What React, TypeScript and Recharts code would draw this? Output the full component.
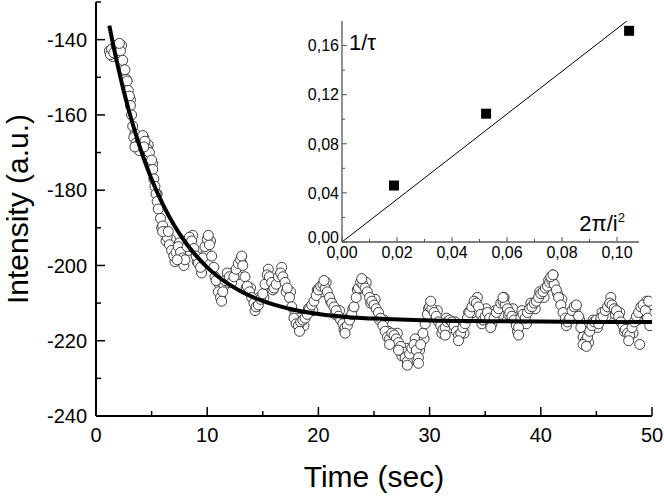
import { ComposedChart, Scatter, Line, XAxis, YAxis } from 'recharts';

const FONT = '"Liberation Sans", Arial, sans-serif';

// measured intensity, [time (s), intensity (a.u.)]
const measured: [number, number][] = [
  [1.2, -143], [1.3, -144], [1.4, -142.5], [1.6, -143.5], [1.8, -141.5], [2.0, -142], [2.2, -143],
  [2.4, -145.5], [2.6, -148], [2.8, -151], [2.9, -153.5], [3.0, -155], [3.1, -157.5], [3.2, -160],
  [3.3, -163], [3.4, -166], [3.6, -167.5], [3.8, -168], [4.0, -166.5], [4.2, -165.5], [4.4, -167],
  [4.6, -169], [4.8, -170], [5.0, -172], [5.1, -174.5], [5.2, -177], [5.3, -179], [5.4, -181],
  [5.5, -183], [5.6, -185], [5.8, -187.5], [6.0, -189.5], [6.2, -191], [6.4, -192.5], [6.6, -194.5],
  [6.8, -196], [7.0, -197.5], [7.2, -196.5], [7.4, -195], [7.6, -196.5], [7.8, -198], [8.0, -198.5],
  [8.2, -195], [8.4, -192.5], [8.6, -193.5], [8.8, -195.5], [9.0, -197.5], [9.2, -199.5], [9.4, -200.5],
  [9.6, -198], [9.8, -195], [10.0, -193], [10.2, -194.5], [10.4, -197.5], [10.6, -200.5], [10.8, -204],
  [11.0, -207], [11.2, -208.5], [11.4, -207], [11.6, -204], [11.8, -202], [12.0, -203], [12.2, -204.5],
  [12.4, -203], [12.6, -201], [12.8, -199.5], [13.0, -198.5], [13.2, -200], [13.4, -203], [13.6, -205.5],
  [13.8, -207], [14.0, -208.5], [14.2, -210], [14.4, -211], [14.6, -210.5], [14.8, -209], [15.0, -207.5],
  [15.2, -205], [15.4, -202.5], [15.6, -203], [15.8, -204.5], [16.0, -206], [16.2, -205], [16.4, -203],
  [16.6, -202], [16.8, -203], [17.0, -204.5], [17.2, -206], [17.4, -208.5], [17.6, -211], [17.8, -214],
  [18.0, -215.5], [18.2, -216], [18.4, -215], [18.6, -214.5], [18.8, -214], [19.0, -213], [19.2, -211.5],
  [19.4, -210.5], [19.6, -209.5], [19.8, -208], [20.0, -206.5], [20.2, -205.5], [20.4, -205], [20.6, -206],
  [20.8, -207], [21.0, -208.5], [21.2, -210], [21.4, -211], [21.6, -212], [21.8, -213.5], [22.0, -214.5],
  [22.2, -215.5], [22.4, -216.5], [22.6, -216], [22.8, -214.5], [23.0, -213], [23.2, -211], [23.4, -208.5],
  [23.6, -206], [23.8, -204.5], [24.0, -205], [24.2, -206], [24.4, -207], [24.6, -208.5], [24.8, -209.5],
  [25.0, -210.5], [25.2, -211.5], [25.4, -212.5], [25.6, -214], [25.8, -216], [26.0, -217.5], [26.2, -219],
  [26.4, -219.5], [26.6, -218], [26.8, -218.5], [27.0, -219.5], [27.2, -220.5], [27.4, -221.5], [27.6, -223],
  [27.8, -224.5], [28.0, -225.5], [28.2, -223.5], [28.4, -222], [28.6, -221], [28.8, -222.5], [29.0, -224.5],
  [29.2, -221], [29.4, -218], [29.6, -215.5], [29.8, -213], [30.0, -211], [30.2, -211.5], [30.4, -212.5],
  [30.6, -213.5], [30.8, -215], [31.0, -216], [31.2, -217], [31.4, -216.5], [31.6, -215], [31.8, -214.5],
  [32.0, -215], [32.2, -216], [32.4, -217.5], [32.6, -218.5], [32.8, -218], [33.0, -216.5], [33.2, -215.5],
  [33.4, -214], [33.6, -212.5], [33.8, -211], [34.0, -209.5], [34.2, -210], [34.4, -211], [34.6, -213],
  [34.8, -214.5], [35.0, -213.5], [35.2, -212.5], [35.4, -214], [35.6, -215.5], [35.8, -214], [36.0, -212.5],
  [36.2, -211.5], [36.4, -210], [36.6, -209.5], [36.8, -210.5], [37.0, -211.5], [37.2, -212.5], [37.4, -213.5],
  [37.6, -214.5], [37.8, -216], [38.0, -216.5], [38.2, -214], [38.4, -213], [38.6, -214], [38.8, -212.5],
  [39.0, -211.5], [39.2, -211], [39.4, -210], [39.6, -209.5], [39.8, -208.5], [40.0, -207.5], [40.2, -207],
  [40.4, -206], [40.6, -205.5], [40.8, -204.5], [41.0, -204], [41.2, -205], [41.4, -206.5], [41.6, -208.5],
  [41.8, -210.5], [42.0, -212.5], [42.2, -214], [42.4, -215], [42.6, -214], [42.8, -212], [43.0, -211],
  [43.2, -210.5], [43.4, -213.5], [43.6, -216.5], [43.8, -219], [44.0, -220], [44.2, -219], [44.4, -217.5],
  [44.6, -216], [44.8, -215], [45.0, -214.5], [45.2, -215.5], [45.4, -214], [45.6, -213.5], [45.8, -212],
  [46.0, -211], [46.2, -210], [46.4, -210.5], [46.6, -211.5], [46.8, -212], [47.0, -213.5], [47.2, -215],
  [47.4, -216], [47.6, -217], [47.8, -218], [48.0, -218.5], [48.2, -216.5], [48.4, -215], [48.6, -213.5],
  [48.8, -212.5], [49.0, -211], [49.2, -210.5], [49.4, -212], [49.6, -214], [49.8, -216],
];

// second layer of circles that widens the band
const measuredBand: [number, number][] = [
  [1.5, -144.5], [1.9, -143.5], [2.3, -141.5], [2.7, -150.5], [3.1, -156], [3.5, -165], [3.9, -169.5],
  [4.3, -166], [4.7, -168], [5.1, -173], [5.5, -181], [5.9, -190], [6.3, -193.5], [6.7, -193], [7.1, -199],
  [7.5, -194], [7.9, -200], [8.3, -196], [8.7, -192], [9.1, -199], [9.5, -202], [9.9, -196.5], [10.3, -193.5],
  [10.7, -203], [11.1, -205], [11.5, -205.5], [11.9, -204.5], [12.3, -202], [12.7, -202.5], [13.1, -199.5],
  [13.5, -206], [13.9, -206], [14.3, -212], [14.7, -208.5], [15.1, -208.5], [15.5, -201], [15.9, -206.5],
  [16.3, -203.5], [16.7, -200.5], [17.1, -207], [17.5, -207], [17.9, -213], [18.3, -214], [18.7, -216],
  [19.1, -211.5], [19.5, -212], [19.9, -206.5], [20.3, -207], [20.7, -204.5], [21.1, -209.5], [21.5, -213],
  [21.9, -212], [22.3, -217], [22.7, -214], [23.1, -211.5], [23.5, -206.5], [23.9, -206], [24.3, -204.5],
  [24.7, -210], [25.1, -209], [25.5, -214.5], [25.9, -214.5], [26.3, -217.5], [26.7, -220], [27.1, -218],
  [27.5, -224], [27.9, -222], [28.3, -225], [28.7, -219.5], [29.1, -222.5], [29.5, -219.5], [29.9, -211.5],
  [30.3, -213.5], [30.7, -212], [31.1, -218], [31.5, -214], [31.9, -216.5], [32.3, -215], [32.7, -216.5],
  [33.1, -218], [33.5, -212.5], [33.9, -212.5], [34.3, -208.5], [34.7, -215.5], [35.1, -211.5], [35.5, -216],
  [35.9, -212], [36.3, -213], [36.7, -208.5], [37.1, -213], [37.5, -211.5], [37.9, -217.5], [38.3, -212],
  [38.7, -215.5], [39.1, -210], [39.5, -211.5], [39.9, -207], [40.3, -208.5], [40.7, -204], [41.1, -202.5],
  [41.5, -207.5], [41.9, -209], [42.3, -216], [42.7, -212.5], [43.1, -212], [43.5, -214.5], [43.9, -217.5],
  [44.3, -220.5], [44.7, -214.5], [45.1, -216.5], [45.5, -212.5], [45.9, -213.5], [46.3, -208.5], [46.7, -213],
  [47.1, -212.5], [47.5, -217.5], [47.9, -216.5], [48.3, -218], [48.7, -214.5], [49.1, -212.5], [49.5, -209.5],
  [49.9, -213],
];

// scattered points off the main band
const measuredSpread: [number, number][] = [
  [2.1, -141], [3.5, -168.5], [4.3, -168.5], [6.0, -191], [6.5, -191], [7.3, -198.5], [10.1, -192],
  [11.3, -209.5], [13.1, -197.5], [18.3, -217.5], [20.5, -204], [22.4, -218], [23.9, -203.5],
  [28.0, -226.5], [29.0, -226], [30.1, -209.5], [32.6, -220], [35.5, -216.5], [38.0, -218.5],
  [40.9, -203], [43.8, -221], [44.1, -221.5], [47.9, -220], [48.9, -221], [49.7, -209.5],
  [26.4, -221], [27.2, -222.5], [31.4, -218.5], [36.6, -208.5], [41.1, -202.5],
];

const fitTime = [1.2, 1.5, 2, 2.5, 3, 3.5, 4, 5, 6, 7, 8, 9, 10, 12, 14, 16, 18, 20, 23, 26, 30, 35, 40, 45, 50];
const fitIntensity = [-136.3, -140.7, -147.5, -153.7, -159.3, -164.4, -169, -177.1, -183.7, -189.2, -193.7,
  -197.4, -200.5, -205.1, -208.3, -210.4, -211.9, -212.9, -213.8, -214.2, -214.6, -214.8, -214.9, -215, -215];

// inset: 1/tau vs 2pi/i^2
const insetX = [0.0189, 0.0524, 0.1044];
const insetY = [0.046, 0.1045, 0.172];
const insetLineX = [0, 0.1036];
const insetLineY = [0, 0.18];

const timeTicks = [0, 5, 10, 15, 20, 25, 30, 35, 40, 45, 50];
const intensityTicks = [-240, -230, -220, -210, -200, -190, -180, -170, -160, -150, -140, -130];
const insetXTicks = [0, 0.01, 0.02, 0.03, 0.04, 0.05, 0.06, 0.07, 0.08, 0.09, 0.1];
const insetYTicks = [0, 0.02, 0.04, 0.06, 0.08, 0.1, 0.12, 0.14, 0.16];

const toPoints = (arr: [number, number][]) => arr.map(([t, v]) => ({ t, v }));
const scatterData = toPoints(measured);
const bandData = toPoints(measuredBand);
const spreadData = toPoints(measuredSpread);
const fitData = fitTime.map((t, i) => ({ t, v: fitIntensity[i] }));
const insetPoints = insetX.map((x, i) => ({ x, y: insetY[i] }));
const insetLine = insetLineX.map((x, i) => ({ x, y: insetLineY[i] }));

type Side = 'bottom' | 'left' | 'top' | 'right';
interface TickOpts {
  side: Side;
  len: (v: number) => number;
  label?: (v: number) => string | null;
  fontSize?: number;
  offset?: number;
  lift?: (v: number) => number;
  stroke: string;
  width: number;
}

// inward ticks, drawn by hand (tickSize=0, tickMargin=0 so x/y sit on the axis line)
const makeTick = (o: TickOpts) => (props: any) => {
  const { x, y, payload } = props;
  const v = payload.value as number;
  const L = o.len(v);
  const text = o.label ? o.label(v) : null;
  const fs = o.fontSize ?? 12;
  const lift = o.lift ? o.lift(v) : 0;
  let line = null;
  let lbl = null;
  if (o.side === 'bottom') {
    line = <line x1={x} x2={x} y1={y} y2={y - L} />;
    if (text) lbl = <text x={x} y={y + (o.offset ?? 0)} textAnchor="middle">{text}</text>;
  } else if (o.side === 'top') {
    line = <line x1={x} x2={x} y1={y} y2={y + L} />;
  } else if (o.side === 'left') {
    line = <line x1={x} x2={x + L} y1={y} y2={y} />;
    if (text) lbl = <text x={x - (o.offset ?? 0)} y={y + fs * 0.36 - lift} textAnchor="end">{text}</text>;
  } else {
    line = <line x1={x} x2={x - L} y1={y} y2={y} />;
  }
  return (
    <g>
      <g stroke={o.stroke} strokeWidth={o.width}>{line}</g>
      {lbl && <g fontFamily={FONT} fontSize={fs} fill="#000">{lbl}</g>}
    </g>
  );
};

const openCircle = (p: any) => (
  <circle cx={p.cx} cy={p.cy} r={5} fill="#fff" stroke="#2a2a2a" strokeWidth={0.9} />
);
const square = (p: any) => <rect x={p.cx - 5} y={p.cy - 5} width={10} height={10} fill="#000" />;

const comma = (v: number) => v.toFixed(2).replace('.', ',');

function MainChart() {
  const axisLine = { stroke: '#000', strokeWidth: 2 };
  return (
    <ComposedChart width={664} height={496} margin={{ top: 2, right: 12, bottom: 0, left: 0 }}>
      <XAxis
        xAxisId="b"
        dataKey="t"
        type="number"
        domain={[0, 50]}
        allowDataOverflow
        ticks={timeTicks}
        interval={0}
        height={80}
        tickSize={0}
        tickMargin={0}
        axisLine={axisLine}
        tick={makeTick({
          side: 'bottom', stroke: '#000', width: 1.5, fontSize: 20, offset: 25.5,
          len: (v) => (v % 10 === 0 ? 9 : 5),
          label: (v) => (v % 10 === 0 ? String(v) : null),
        })}
        label={{
          content: (p: any) => {
            const vb = p.viewBox;
            return (
              <text x={vb.x + vb.width / 2} y={vb.y + 71} textAnchor="middle" fontFamily={FONT} fontSize={30} fill="#000">
                Time (sec)
              </text>
            );
          },
        }}
      />
      <XAxis
        xAxisId="top"
        orientation="top"
        type="number"
        domain={[0, 50]}
        allowDataOverflow
        ticks={timeTicks}
        interval={0}
        height={0}
        tickSize={0}
        tickMargin={0}
        axisLine={axisLine}
        tick={makeTick({ side: 'top', stroke: '#000', width: 1.5, len: () => 5 })}
      />
      <YAxis
        yAxisId="l"
        type="number"
        domain={[-240, -130]}
        allowDataOverflow
        ticks={intensityTicks}
        interval={0}
        width={96}
        tickSize={0}
        tickMargin={0}
        axisLine={axisLine}
        tick={makeTick({
          side: 'left', stroke: '#000', width: 1.5, fontSize: 20, offset: 9,
          len: (v) => (v % 20 === 0 ? 9 : 5),
          label: (v) => (v % 20 === 0 ? String(v) : null),
        })}
        label={{
          content: (p: any) => {
            const vb = p.viewBox;
            const cy = vb.y + vb.height / 2;
            return (
              <text x={28} y={cy} transform={`rotate(-90, 28, ${cy})`} textAnchor="middle" fontFamily={FONT} fontSize={30} fill="#000">
                Intensity (a.u.)
              </text>
            );
          },
        }}
      />
      <YAxis
        yAxisId="r"
        orientation="right"
        type="number"
        domain={[-240, -130]}
        allowDataOverflow
        ticks={intensityTicks}
        interval={0}
        width={0}
        tickSize={0}
        tickMargin={0}
        axisLine={axisLine}
        tick={makeTick({ side: 'right', stroke: '#000', width: 1.5, len: () => 8 })}
      />
      <Scatter xAxisId="b" yAxisId="l" data={bandData} dataKey="v" shape={openCircle} isAnimationActive={false} />
      <Scatter xAxisId="b" yAxisId="l" data={scatterData} dataKey="v" shape={openCircle} isAnimationActive={false} />
      <Scatter xAxisId="b" yAxisId="l" data={spreadData} dataKey="v" shape={openCircle} isAnimationActive={false} />
    </ComposedChart>
  );
}

// the fitted curve sits on top of the circles, so it gets its own transparent layer
function FitOverlay() {
  return (
    <ComposedChart width={664} height={496} margin={{ top: 2, right: 12, bottom: 80, left: 96 }}>
      <XAxis dataKey="t" type="number" domain={[0, 50]} allowDataOverflow hide />
      <YAxis type="number" domain={[-240, -130]} allowDataOverflow hide />
      <Line
        data={fitData}
        dataKey="v"
        type="monotone"
        stroke="#000"
        strokeWidth={4}
        dot={false}
        activeDot={false}
        isAnimationActive={false}
      />
    </ComposedChart>
  );
}

function InsetChart() {
  const axisLine = { stroke: '#555', strokeWidth: 1.3 };
  return (
    <ComposedChart width={360} height={260} margin={{ top: 11, right: 11, bottom: 0, left: 0 }}>
      <XAxis
        xAxisId="b"
        dataKey="x"
        type="number"
        domain={[0, 0.108]}
        allowDataOverflow
        ticks={insetXTicks}
        interval={0}
        height={28}
        tickSize={0}
        tickMargin={0}
        axisLine={axisLine}
        tick={makeTick({
          side: 'bottom', stroke: '#555', width: 1, fontSize: 16, offset: 16,
          len: (v) => (Math.round(v * 100) % 2 === 0 ? 5 : 3),
          label: (v) => (Math.round(v * 100) % 2 === 0 ? comma(v) : null),
        })}
        label={{
          content: (p: any) => {
            const vb = p.viewBox;
            return (
              <text x={vb.x + vb.width - 14} y={vb.y - 11} textAnchor="end" fontFamily={FONT} fontSize={22} fill="#000">
                2π/i<tspan dy={-9} fontSize={13}>2</tspan>
              </text>
            );
          },
        }}
      />
      <XAxis
        xAxisId="top"
        orientation="top"
        type="number"
        domain={[0, 0.108]}
        allowDataOverflow
        ticks={insetXTicks.slice(1)}
        interval={0}
        height={0}
        tickSize={0}
        tickMargin={0}
        axisLine={axisLine}
        tick={makeTick({ side: 'top', stroke: '#555', width: 1, len: () => 4 })}
      />
      <YAxis
        yAxisId="l"
        type="number"
        domain={[0, 0.18]}
        allowDataOverflow
        ticks={insetYTicks}
        interval={0}
        width={52}
        tickSize={0}
        tickMargin={0}
        axisLine={axisLine}
        tick={makeTick({
          side: 'left', stroke: '#555', width: 1, fontSize: 16, offset: 3,
          len: (v) => (Math.round(v * 100) % 4 === 0 ? 5 : 3),
          label: (v) => (Math.round(v * 100) % 4 === 0 ? comma(v) : null),
          lift: (v) => (v === 0 ? 5 : 0),
        })}
        label={{
          content: (p: any) => {
            const vb = p.viewBox;
            return (
              <text x={vb.x + vb.width + 7} y={vb.y + 29} fontFamily={FONT} fontSize={22} fill="#000">
                1/τ
              </text>
            );
          },
        }}
      />
      <YAxis
        yAxisId="r"
        orientation="right"
        type="number"
        domain={[0, 0.18]}
        allowDataOverflow
        ticks={insetYTicks.slice(1)}
        interval={0}
        width={0}
        tickSize={0}
        tickMargin={0}
        axisLine={axisLine}
        tick={makeTick({ side: 'right', stroke: '#555', width: 1, len: () => 4 })}
      />
      <Line
        xAxisId="b"
        yAxisId="l"
        data={insetLine}
        dataKey="y"
        type="linear"
        stroke="#000"
        strokeWidth={1}
        dot={false}
        activeDot={false}
        isAnimationActive={false}
      />
      <Scatter xAxisId="b" yAxisId="l" data={insetPoints} dataKey="y" shape={square} isAnimationActive={false} />
    </ComposedChart>
  );
}

export default function App() {
  return (
    <div style={{ position: 'absolute', left: 0, top: 0, width: 664, height: 496, background: '#fff', fontFamily: FONT }}>
      <div style={{ position: 'absolute', left: 0, top: 0 }}>
        <MainChart />
      </div>
      <div style={{ position: 'absolute', left: 0, top: 0 }}>
        <FitOverlay />
      </div>
      <div style={{ position: 'absolute', left: 290, top: 10 }}>
        <InsetChart />
      </div>
    </div>
  );
}
